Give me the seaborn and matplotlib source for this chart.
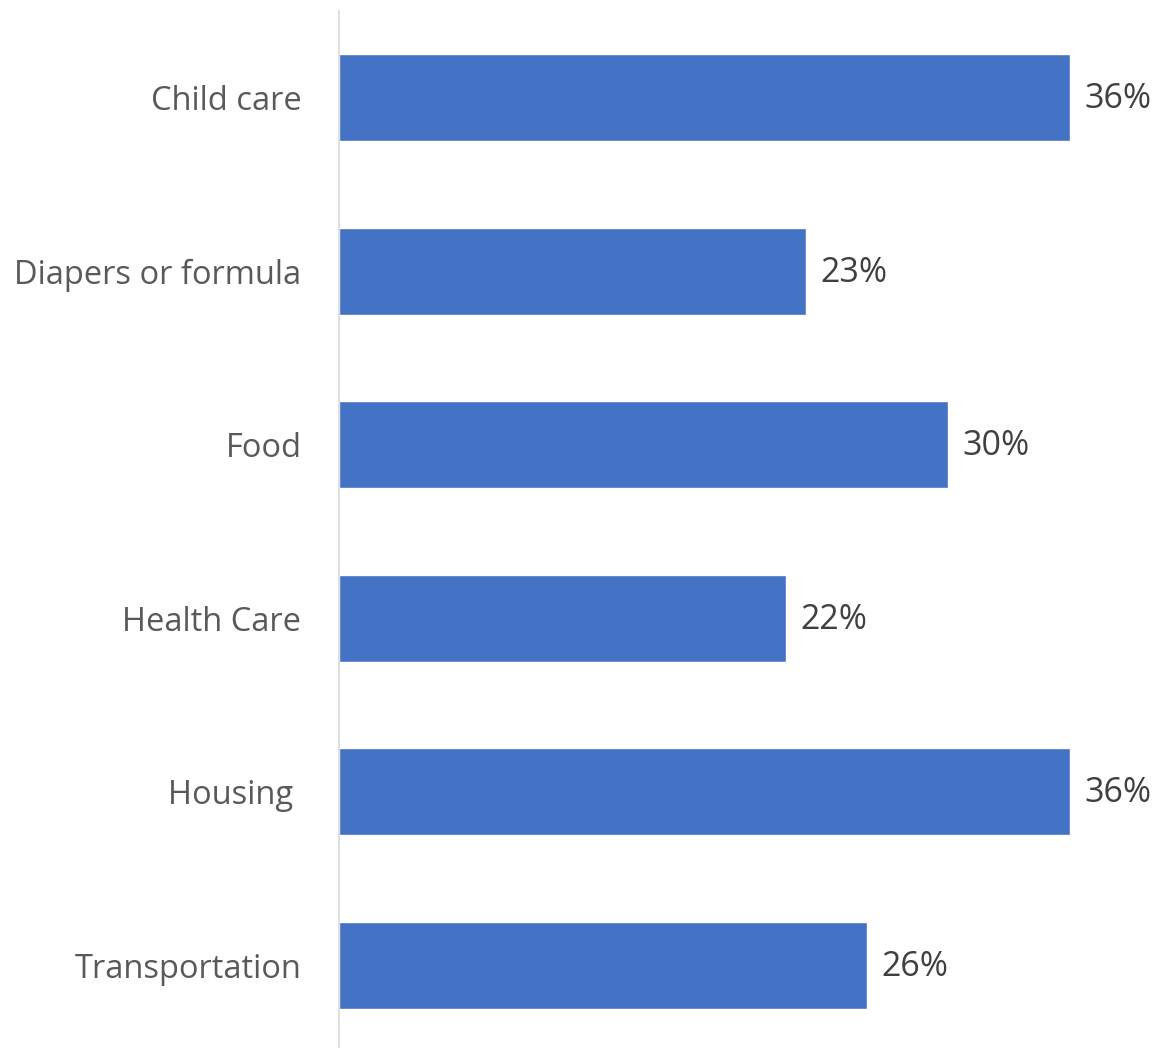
import pandas as pd
import matplotlib.pyplot as plt
import seaborn as sns

kategoriler = ['Child care', 'Diapers or formula', 'Food', 'Health Care', 'Housing ', 'Transportation']
yuzdeler = [36, 23, 30, 22, 36, 26]

veri = pd.DataFrame({'kategori': kategoriler, 'yuzde': yuzdeler})

sns.set_style('white')
plt.rcParams['font.family'] = ['Open Sans', 'DejaVu Sans']

fig = plt.figure(figsize=(11.58, 10.48), dpi=100)
ax = fig.add_axes([339 / 1158, -4 / 1048, 1 - 339 / 1158, 1041 / 1048])

sns.barplot(data=veri, x='yuzde', y='kategori', color='#4472C4', width=0.5,
            saturation=1, ax=ax)

ax.set_xlim(0, (1158 - 339) / (731 / 36))
ax.set_ylim(5.5, -0.5)
ax.set_xlabel('')
ax.set_ylabel('')
ax.set_xticks([])
for s in ['top', 'right', 'bottom']:
    ax.spines[s].set_visible(False)
ax.spines['left'].set_color('#d9d9d9')
ax.spines['left'].set_linewidth(1.2)
ax.tick_params(axis='y', length=0, pad=27, labelsize=23.5, labelcolor='#595959')

# bar ucundaki yuzde etiketleri
for i, v in enumerate(yuzdeler):
    ax.text(v + 0.7, i + 0.01, f'{v}%', va='center', ha='left', fontsize=24.5,
            color='#404040', clip_on=False)

fig.savefig('out.png', dpi=100)
